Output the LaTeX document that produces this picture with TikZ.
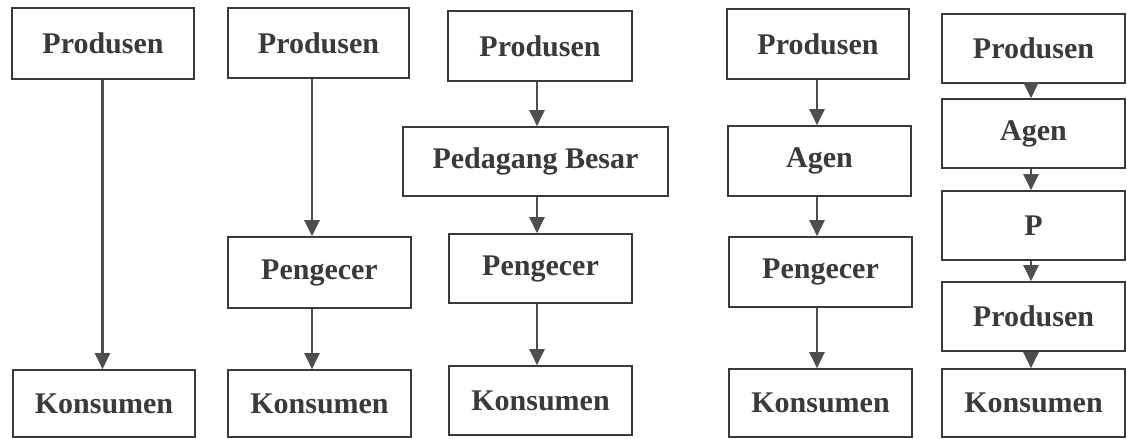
\documentclass[tikz,border=0pt]{standalone}
\usepackage{fontspec}
\setmainfont{Liberation Serif}
\usetikzlibrary{arrows.meta}
\definecolor{ink}{HTML}{3A3A3A}
\definecolor{arr}{HTML}{4E4E4E}
\newcommand{\bx}[6]{%
  \node[box, minimum width={(#4-#2)*1pt}, minimum height={(#5-#3)*1pt}]
    (#1) at ({(#2+#4)/2}, {-(#3+#5)/2}) {#6};}
\begin{document}
\begin{tikzpicture}[x=1pt, y=1pt,
  box/.style={draw=ink, line width=1.6pt, inner sep=0pt, fill=white,
    text=ink, font=\fontsize{30}{32}\selectfont\bfseries},
  flow/.style={draw=arr, line width=2.2pt,
    -{Triangle[length=16pt, width=15pt]}}]
\useasboundingbox[fill=white] (0,0) rectangle (1127,-439);
% column 1
\bx{pA}{12}{8}{194}{79}{Produsen}
\bx{kA}{13}{370}{195}{437}{Konsumen}
% column 2
\bx{pB}{228}{8}{409}{78}{Produsen}
\bx{gB}{228}{237}{411}{308}{Pengecer}
\bx{kB}{228}{370}{411}{437}{Konsumen}
% column 3
\bx{pC}{448}{11}{632}{81}{Produsen}
\bx{bC}{403}{127}{668}{196}{Pedagang Besar}
\bx{gC}{449}{234}{632}{303}{Pengecer}
\bx{kC}{449}{366}{632}{435}{Konsumen}
% column 4
\bx{pD}{727}{9}{909}{79}{Produsen}
\bx{aD}{728}{126}{911}{196}{Agen}
\bx{gD}{729}{237}{912}{307}{Pengecer}
\bx{kD}{729}{369}{912}{437}{Konsumen}
% column 5
\bx{pE}{942}{14}{1125}{83}{Produsen}
\bx{aE}{942}{99}{1125}{168}{Agen}
\bx{xE}{942}{191}{1125}{260}{P}
\bx{rE}{942}{282}{1125}{351}{Produsen}
\bx{kE}{942}{369}{1125}{437}{Konsumen}
% connectors (vertical)
\draw[flow] ([xshift=-0.5pt]pA.south) -- ([xshift=-0.5pt]pA.south |- kA.north);
\draw[flow] ([xshift=-6.5pt]pB.south) -- ([xshift=-6.5pt]pB.south |- gB.north);
\draw[flow] ([xshift=-6.5pt]pB.south |- gB.south) -- ([xshift=-6.5pt]pB.south |- kB.north);
\draw[flow] ([xshift=-3pt]pC.south) -- ([xshift=-3pt]pC.south |- bC.north);
\draw[flow] ([xshift=-3pt]pC.south |- bC.south) -- ([xshift=-3pt]pC.south |- gC.north);
\draw[flow] ([xshift=-3pt]pC.south |- gC.south) -- ([xshift=-3pt]pC.south |- kC.north);
\draw[flow] ([xshift=-1pt]pD.south) -- ([xshift=-1pt]pD.south |- aD.north);
\draw[flow] ([xshift=-1pt]pD.south |- aD.south) -- ([xshift=-1pt]pD.south |- gD.north);
\draw[flow] ([xshift=-1pt]pD.south |- gD.south) -- ([xshift=-1pt]pD.south |- kD.north);
\draw[flow] ([xshift=-2.5pt]pE.south) -- ([xshift=-2.5pt]pE.south |- aE.north);
\draw[flow] ([xshift=-2.5pt]pE.south |- aE.south) -- ([xshift=-2.5pt]pE.south |- xE.north);
\draw[flow] ([xshift=-2.5pt]pE.south |- xE.south) -- ([xshift=-2.5pt]pE.south |- rE.north);
\draw[flow] ([xshift=-2.5pt]pE.south |- rE.south) -- ([xshift=-2.5pt]pE.south |- kE.north);
\end{tikzpicture}
\end{document}
